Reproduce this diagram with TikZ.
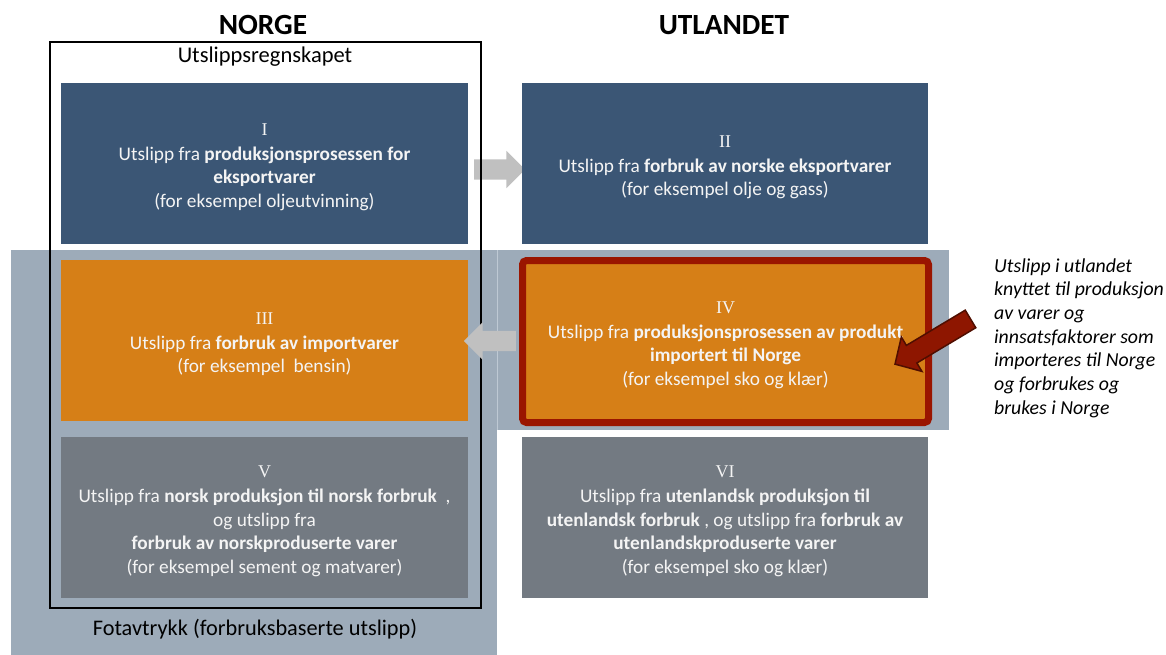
\documentclass[tikz,border=0pt]{standalone}
\usepackage{fontspec}
\setmainfont{Carlito}
\newfontfamily\numfont{Liberation Serif}
\usetikzlibrary{shapes.arrows,calc}
\definecolor{boxblue}{RGB}{59,86,117}
\definecolor{boxorange}{RGB}{214,127,23}
\definecolor{boxgray}{RGB}{115,122,130}
\definecolor{bggray}{RGB}{157,171,185}
\definecolor{bgline}{RGB}{190,201,212}
\definecolor{arrowgray}{RGB}{192,192,192}
\definecolor{redborder}{RGB}{154,21,0}
\definecolor{redarrow}{RGB}{142,22,0}
\definecolor{redarrowline}{RGB}{80,14,0}
\definecolor{boxtext}{RGB}{244,244,244}
\newcommand\romnum[1]{{\numfont\fontsize{18}{23.5}\selectfont\rule{0pt}{19pt}#1}\\[1.5pt]}
\tikzset{
  box/.style={rectangle, inner sep=0pt, minimum width=407pt, minimum height=161pt,
    text=boxtext, align=center, font=\fontsize{19.3}{23.5}\selectfont},
  grayarrow/.style={single arrow, fill=arrowgray, inner xsep=0pt, inner ysep=10pt,
    single arrow head extend=8.5pt, single arrow tip angle=90},
  title/.style={font=\fontsize{29.3}{34}\selectfont\bfseries, inner sep=0pt},
  label/.style={font=\fontsize{22.3}{26}\selectfont, inner sep=0pt},
}
\begin{document}
\begin{tikzpicture}[x=1pt,y=-1pt]
\useasboundingbox (0,0) rectangle (1166,655);
% background areas
\fill[bggray] (11,250) rectangle (497,655);
\fill[bggray] (497,250) rectangle (949,430);
\draw[bgline, line width=0.8pt] (497.5,250) -- (497.5,430);
% titles
\node[title] (norge) at (263,25) {NORGE};
\node[title] (utland) at (724,25) {UTLANDET};
\node[label, font=\fontsize{22.5}{26}\selectfont] (regn) at (265,57) {Utslippsregnskapet};
\node[label] (fot) at (255,629) {Fotavtrykk (forbruksbaserte utslipp)};
% arrow I -> II
\node[grayarrow, minimum height=51pt] (a1) at (494.5,169.5) {};
% frame
\draw[black, line width=2pt] (49.5,42) rectangle (480.5,607.5);
% boxes
\node[box, fill=boxblue] (I) at (264.5,163.5)
  {\romnum{I}Utslipp fra \textbf{produksjonsprosessen for}\\\textbf{eksportvarer}\\(for eksempel oljeutvinning)};
\node[box, fill=boxblue, minimum width=406pt] (II) at (725,163.5)
  {\romnum{II}Utslipp fra \textbf{forbruk av norske eksportvarer}\\(for eksempel olje og gass)};
\node[box, fill=boxorange] (III) at (264.5,340.5)
  {\romnum{III}Utslipp fra \textbf{forbruk av importvarer}\\(for eksempel\ \ bensin)};
% arrow IV -> III
\node[grayarrow, minimum height=52pt, rotate=180] (a2) at (495,341) {};
\node[box, fill=boxorange, draw=redborder, line width=7pt, rounded corners=4pt,
  minimum width=406pt, minimum height=162pt] (IV) at (725.5,341.5)
  {\romnum{IV}Utslipp fra \textbf{produksjonsprosessen av produkt}\\\textbf{importert til Norge}\\(for eksempel sko og klær)};
\node[box, fill=boxgray] (V) at (264.5,517.5)
  {\romnum{V}Utslipp fra \textbf{norsk produksjon til norsk forbruk}\ \ ,\\og utslipp fra\\\textbf{forbruk av norskproduserte varer}\\(for eksempel sement og matvarer)};
\node[box, fill=boxgray, minimum width=406pt] (VI) at (725,517.5)
  {\romnum{VI}Utslipp fra \textbf{utenlandsk produksjon til}\\\textbf{utenlandsk forbruk} , og utslipp fra \textbf{forbruk av}\\\textbf{utenlandskproduserte varer}\\(for eksempel sko og klær)};
% note and red arrow
\node[anchor=west, align=left, inner sep=0pt, font=\fontsize{19.8}{23.7}\selectfont\itshape] (note) at (994,338)
  {Utslipp i utlandet\\knyttet til produksjon\\av varer og\\innsatsfaktorer som\\importeres til Norge\\og forbrukes og\\brukes i Norge};
\node[single arrow, fill=redarrow, draw=redarrowline, line width=1.5pt, inner xsep=0pt, inner ysep=9.5pt,
  single arrow head extend=9.8pt, single arrow tip angle=92, minimum height=88pt, rotate=210.9] (ra) at (937,339) {};
\end{tikzpicture}
\end{document}
